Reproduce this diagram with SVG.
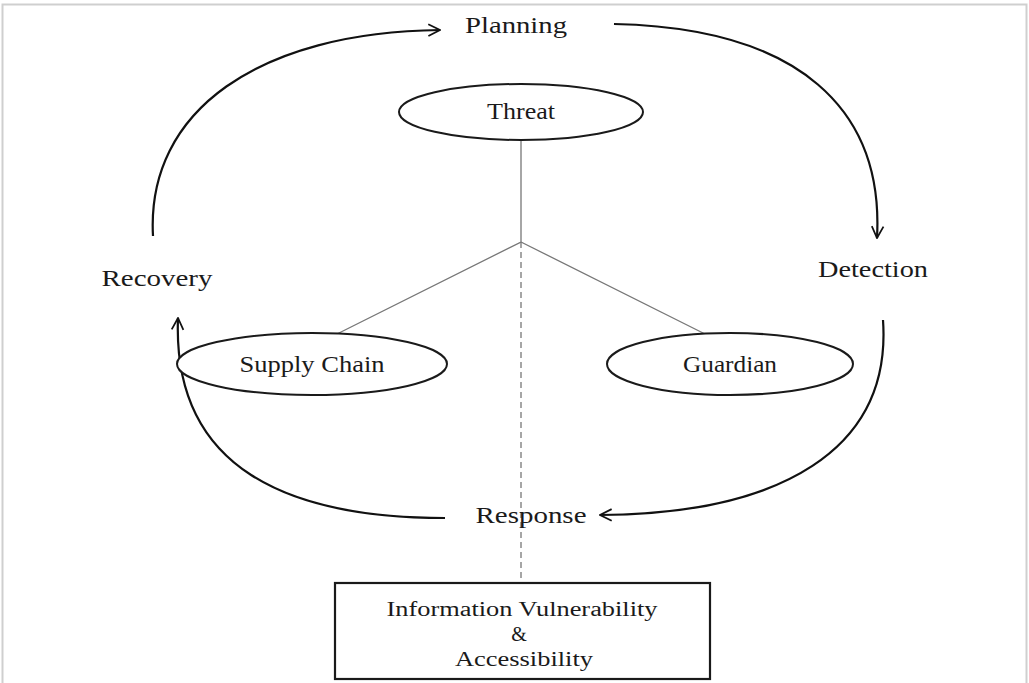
<svg xmlns="http://www.w3.org/2000/svg" width="1029" height="683" viewBox="0 0 1029 683">
  <style>
    .lbl { font-family: "Liberation Serif", "Times New Roman", serif; font-size: 23px; fill: #1a1a1a; text-anchor: middle; }
    .box-lbl { font-size: 20px; }
    .node { fill: #fff; stroke: #1a1a1a; stroke-width: 2; }
    .cycle { fill: none; stroke: #111; stroke-width: 2.2; }
    .tree { fill: none; stroke: #777; stroke-width: 1.3; }
    .dash { fill: none; stroke: #777; stroke-width: 1.3; stroke-dasharray: 6 4; }
  </style>
  <defs>
    <marker id="open" viewBox="0 0 12 12" refX="11" refY="6" markerWidth="14" markerHeight="14" markerUnits="userSpaceOnUse" orient="auto">
      <path d="M1,1 L11,6 L1,11" fill="none" stroke="#111" stroke-width="1.5"/>
    </marker>
  </defs>

  <rect x="2.5" y="4.5" width="1024" height="690" fill="#fff" stroke="#cfcfcf" stroke-width="2"/>

  <g id="connectors">
    <!-- cycle arrows -->
    <path class="cycle" d="M153,236 C146,110 260,32 440,30" marker-end="url(#open)"/>
    <path class="cycle" d="M614,24 C800,28 884,110 877,238" marker-end="url(#open)"/>
    <path class="cycle" d="M883,320 C892,450 780,514 600,515" marker-end="url(#open)"/>
    <path class="cycle" d="M445,518 C290,518 172,470 178,318" marker-end="url(#open)"/>
    <!-- threat tree -->
    <path class="tree" d="M521,140 L521,242 L335,335"/>
    <path class="tree" d="M521,242 L707,335"/>
    <path class="dash" d="M521,242 L521,582"/>
  </g>

  <g id="planning"><text class="lbl" x="516" y="33" textLength="102" lengthAdjust="spacingAndGlyphs">Planning</text></g>
  <g id="detection"><text class="lbl" x="873" y="277" textLength="110" lengthAdjust="spacingAndGlyphs">Detection</text></g>
  <g id="response"><text class="lbl" x="531" y="523" textLength="111" lengthAdjust="spacingAndGlyphs">Response</text></g>
  <g id="recovery"><text class="lbl" x="157" y="286" textLength="111" lengthAdjust="spacingAndGlyphs">Recovery</text></g>

  <g id="threat">
    <ellipse class="node" cx="521" cy="112" rx="122" ry="28"/>
    <text class="lbl" x="521" y="119" textLength="68" lengthAdjust="spacingAndGlyphs">Threat</text>
  </g>
  <g id="supply-chain">
    <ellipse class="node" cx="312" cy="364" rx="135" ry="31"/>
    <text class="lbl" x="312" y="372" textLength="145" lengthAdjust="spacingAndGlyphs">Supply Chain</text>
  </g>
  <g id="guardian">
    <ellipse class="node" cx="730" cy="364" rx="123" ry="31"/>
    <text class="lbl" x="730" y="372" textLength="94" lengthAdjust="spacingAndGlyphs">Guardian</text>
  </g>
  <g id="info-vulnerability">
    <rect x="335" y="583" width="375" height="96" fill="#fff" stroke="#1a1a1a" stroke-width="2.2"/>
    <text class="lbl box-lbl" x="522" y="616" textLength="271" lengthAdjust="spacingAndGlyphs">Information Vulnerability</text>
    <text class="lbl box-lbl" x="519" y="641">&amp;</text>
    <text class="lbl box-lbl" x="524" y="666" textLength="138" lengthAdjust="spacingAndGlyphs">Accessibility</text>
  </g>
</svg>
